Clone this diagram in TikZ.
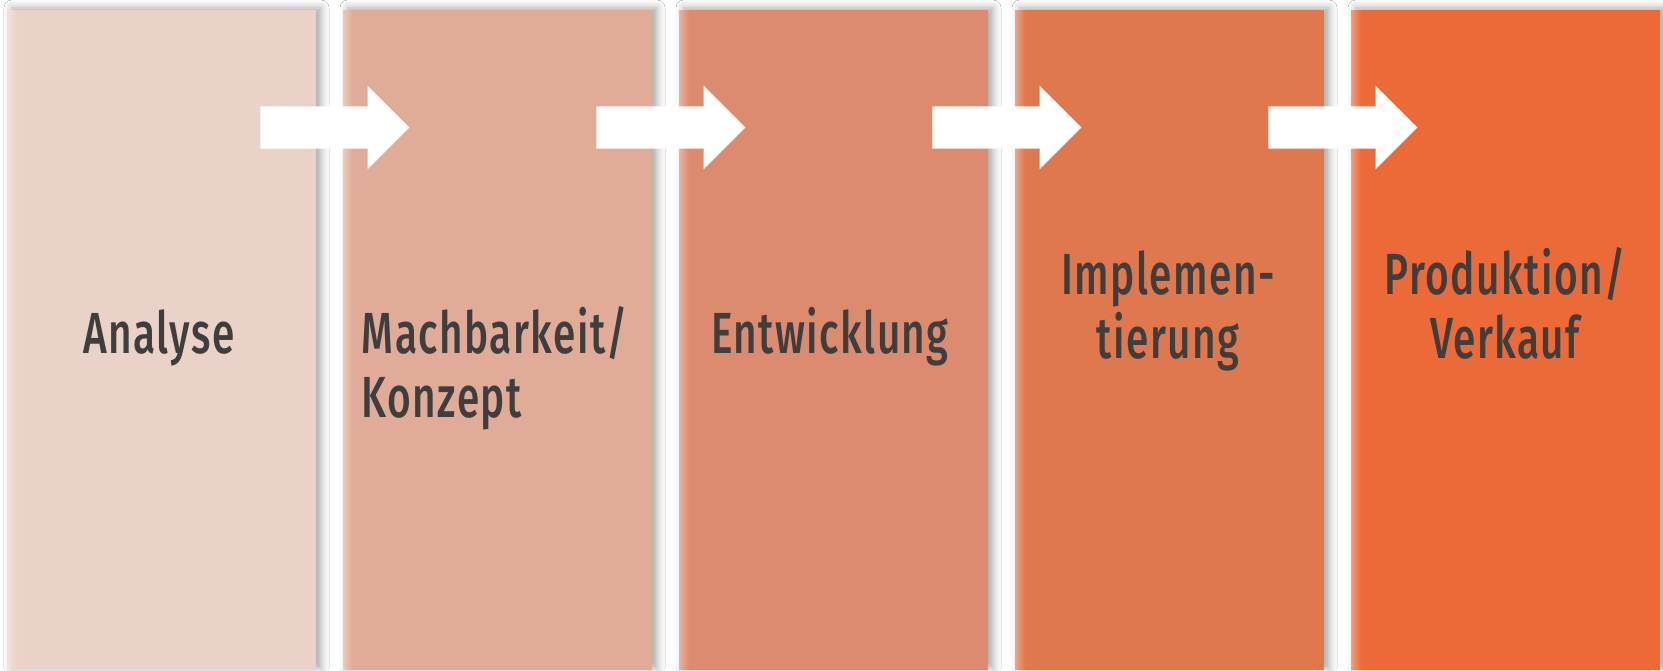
\documentclass[tikz,border=0pt]{standalone}
\usepackage{fontspec}
\newfontfamily\phasefont[FakeStretch=0.7,LetterSpace=2.5]{Fira Sans Medium}
\usetikzlibrary{positioning,calc,shapes.arrows,shadows.blur,fadings}

\definecolor{phaseA}{RGB}{235,210,201}
\definecolor{phaseB}{RGB}{224,172,151}
\definecolor{phaseC}{RGB}{220,139,110}
\definecolor{phaseD}{RGB}{224,120,78}
\definecolor{phaseE}{RGB}{236,106,56}
\definecolor{labelgray}{RGB}{62,62,62}

\begin{document}
\begin{tikzpicture}[
  x=0.5pt,y=-0.5pt,
  node distance=13.5pt,
  phase/.style={minimum width=154.5pt,minimum height=330pt,inner sep=0pt,outer sep=0pt,
    blur shadow={shadow xshift=2.5pt,shadow yshift=1pt,shadow blur radius=4pt,shadow opacity=35}},
  phasetext/.style={font=\phasefont\fontsize{29}{32}\selectfont,text=labelgray,inner sep=0pt,anchor=base},
  flow/.style={single arrow,fill=white,minimum height=74.5pt,single arrow head extend=10.4pt,
    inner xsep=0pt,inner ysep=10.35pt,anchor=tail}
]
  \useasboundingbox[fill=white] (0,0) rectangle (1663,670);

  % phases
  \node[phase,fill=phaseA,anchor=north west] (analyse) at (7,10) {};
  \node[phase,fill=phaseB,right=of analyse] (konzept) {};
  \node[phase,fill=phaseC,right=of konzept] (entwicklung) {};
  \node[phase,fill=phaseD,right=of entwicklung] (implement) {};
  \node[phase,fill=phaseE,right=of implement] (produktion) {};

  % lighter left edges
  \foreach \p in {analyse,konzept,entwicklung,implement,produktion}
    \fill[white,opacity=0.35,path fading=east] (\p.north west) rectangle ($(\p.south west)+(10,0)$);

  % arrows between phases
  \node[flow] (f1) at ($(analyse.north east)+(-56,117.5)$) {};
  \node[flow] (f2) at ($(konzept.north east)+(-56,117.5)$) {};
  \node[flow] (f3) at ($(entwicklung.north east)+(-56,117.5)$) {};
  \node[flow] (f4) at ($(implement.north east)+(-56,117.5)$) {};

  % labels (multi-line: base is the last line)
  \node[phasetext] (t1) at (159,353) {Analyse};
  \node[phasetext,align=left] (t2) at (495,417) {Machbarkeit/\\Konzept};
  \node[phasetext] (t3) at (830,353) {Entwicklung};
  \node[phasetext,align=center] (t4) at (1168,358) {Implemen-\\tierung};
  \node[phasetext,align=center] (t5) at (1505,358) {Produktion/\\Verkauf};
\end{tikzpicture}
\end{document}
